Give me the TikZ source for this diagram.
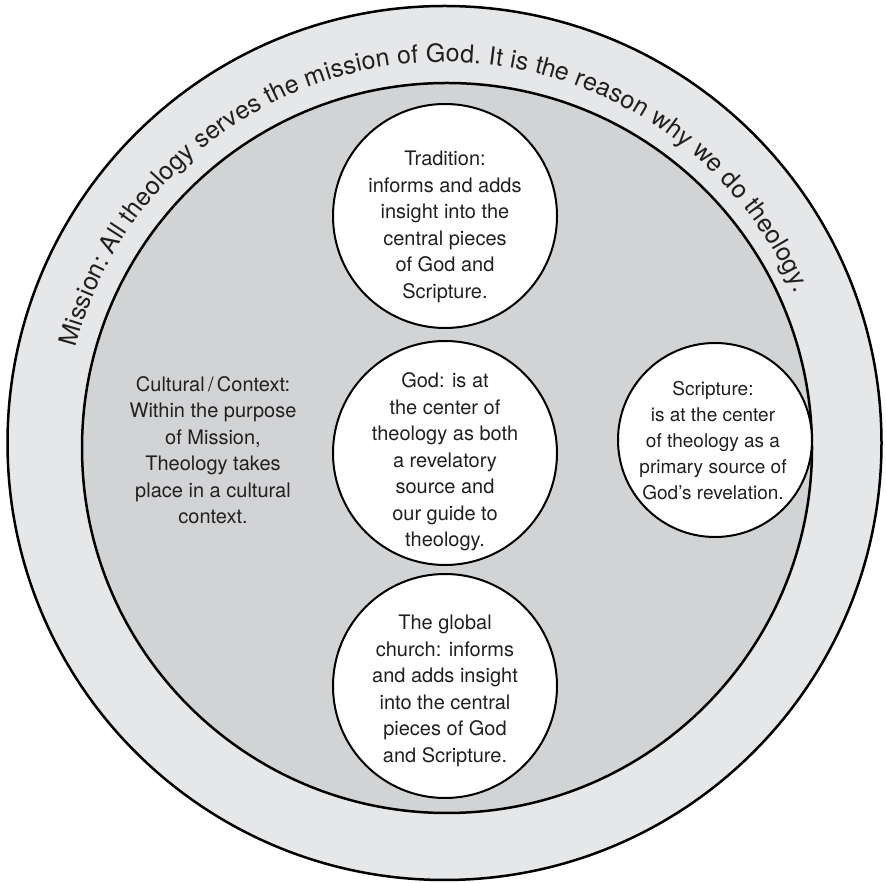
\documentclass[tikz,border=0pt]{standalone}
\usepackage{fontspec}
\setmainfont{TeX Gyre Heros}
\usetikzlibrary{decorations.text}
\definecolor{bandgray}{RGB}{230,231,232}
\definecolor{diskgray}{RGB}{209,211,212}
\definecolor{inkgray}{RGB}{35,31,32}
\newcommand{\arcfont}{\fontsize{25}{25}\selectfont\color{inkgray}}
\begin{document}
\begin{tikzpicture}[x=1pt,y=1pt,
  bubble/.style={circle, draw=black, line width=2pt, fill=white, inner sep=0pt},
  plain/.style={align=center, text=inkgray, font=\fontsize{20}{26.5}\selectfont}]
\useasboundingbox (0,0) rectangle (886,883);
\coordinate (oc) at (444.5,440);
\coordinate (ic) at (447,435);
\fill[bandgray] (oc) circle[radius=437];
\draw[line width=2.5pt] (oc) circle[radius=437];
\fill[diskgray] (ic) circle[radius=365];
\draw[line width=2.5pt] (ic) circle[radius=365];
\path[decorate, decoration={text along path, text align=fit to path,
  text={|\arcfont|Mission: All theology serves the mission of God. It is the reason why we do theology.}}]
  (oc) ++(165.5:381) arc[start angle=165.5, end angle=23, radius=381];
\node[bubble, minimum size=224pt] (trad) at (445,667) {};
\node[bubble, minimum size=224pt] (god) at (445,430) {};
\node[bubble, minimum size=224pt] (glob) at (445,197) {};
\node[bubble, minimum size=194pt] (scr) at (715,443) {};
\node[plain] (tradtxt) at ([yshift=-11pt]trad.center) {Tradition:\\informs and adds\\insight into the\\central pieces\\of God and\\Scripture.};
\node[plain] (godtxt) at ([yshift=-9pt]god.center) {God: is at\\the center of\\theology as both\\a revelatory\\source and\\our guide to\\theology.};
\node[plain] (globtxt) at ([yshift=-5pt]glob.center) {The global\\church: informs\\and adds insight\\into the central\\pieces of God\\and Scripture.};
\node[plain, font=\fontsize{19}{26}\selectfont] (scrtxt) at ([xshift=-2pt,yshift=-1pt]scr.center) {Scripture:\\is at the center\\of theology as a\\primary source of\\God’s revelation.};
\node[plain] (cult) at (213,433) {Cultural\,/\,Context:\\Within the purpose\\of Mission,\\Theology takes\\place in a cultural\\context.};
\end{tikzpicture}
\end{document}
